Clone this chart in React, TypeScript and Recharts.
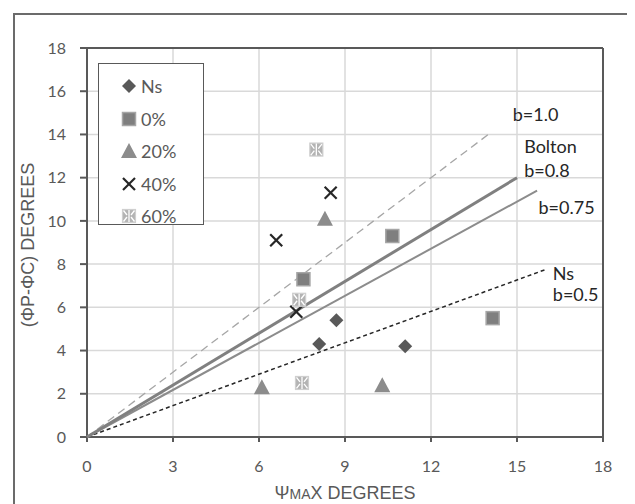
import React from 'react';
import { ScatterChart, Scatter, XAxis, YAxis, CartesianGrid, ReferenceLine, Legend } from 'recharts';

const xTicks = [0, 3, 6, 9, 12, 15, 18];
const yTicks = [0, 2, 4, 6, 8, 10, 12, 14, 16, 18];

const nsX = [8.1, 8.7, 11.1];
const nsY = [4.3, 5.4, 4.2];
const p0X = [7.55, 10.65, 14.15];
const p0Y = [7.3, 9.3, 5.5];
const p20X = [6.1, 8.3, 10.3];
const p20Y = [2.3, 10.1, 2.4];
const p40X = [6.6, 7.3, 8.5];
const p40Y = [9.1, 5.8, 11.3];
const p60X = [8.0, 7.4, 7.5];
const p60Y = [13.3, 6.35, 2.5];

const b10X = [0, 14];
const b10Y = [0, 14];
const boltonX = [0, 15];
const boltonY = [0, 12];
const b075X = [0, 15.7];
const b075Y = [0, 11.4];
const nsLineX = [0, 16];
const nsLineY = [0, 7.75];

const annText = ['b=1.0', 'Bolton', 'b=0.8', 'b=0.75', 'Ns', 'b=0.5'];
const annX = [14.85, 15.25, 15.25, 15.75, 16.25, 16.25];
const annY = [14.95, 13.45, 12.35, 10.65, 7.6, 6.6];

const legendNames = ['Ns', '0%', '20%', '40%', '60%'];

const zip = (xs: number[], ys: number[]) => xs.map((x, i) => ({ x, y: ys[i] }));

const FONT = 'Lato, "Open Sans", sans-serif';
const GRAY = '#595959';

const Diamond = ({ cx, cy }: any) => (
  <polygon points={`${cx},${cy - 7} ${cx + 7},${cy} ${cx},${cy + 7} ${cx - 7},${cy}`} fill="#595959" />
);
const Square = ({ cx, cy }: any) => (
  <rect x={cx - 6.5} y={cy - 6.5} width={13} height={13} fill="#7f7f7f" stroke="#a6a6a6" strokeWidth={1.5} />
);
const Triangle = ({ cx, cy }: any) => (
  <polygon points={`${cx},${cy - 8} ${cx + 8},${cy + 7} ${cx - 8},${cy + 7}`} fill="#8c8c8c" />
);
const Cross = ({ cx, cy }: any) => (
  <g stroke="#262626" strokeWidth={2.2}>
    <line x1={cx - 6} y1={cy - 6} x2={cx + 6} y2={cy + 6} />
    <line x1={cx - 6} y1={cy + 6} x2={cx + 6} y2={cy - 6} />
  </g>
);
const Pattern = ({ cx, cy }: any) => (
  <g>
    <rect x={cx - 6.5} y={cy - 6.5} width={13} height={13} fill="#b3b3b3" stroke="#cfcfcf" strokeWidth={1.2} />
    <g stroke="#ffffff" strokeWidth={1.3}>
      <line x1={cx} y1={cy - 6} x2={cx} y2={cy + 6} />
      <line x1={cx - 5.5} y1={cy - 5.5} x2={cx - 2} y2={cy - 1} />
      <line x1={cx + 5.5} y1={cy - 5.5} x2={cx + 2} y2={cy - 1} />
      <line x1={cx - 5.5} y1={cy + 5.5} x2={cx - 2} y2={cy + 1} />
      <line x1={cx + 5.5} y1={cy + 5.5} x2={cx + 2} y2={cy + 1} />
    </g>
  </g>
);
const Nothing = () => <g />;

const shapes = [Diamond, Square, Triangle, Cross, Pattern];

const AnnText = ({ cx, cy, payload }: any) => (
  <text x={cx} y={cy} dominantBaseline="central" textAnchor="start" fontSize={18} fontFamily={FONT} fill="#262626">
    {payload.label}
  </text>
);

const LegendBox = () => (
  <div
    style={{
      width: 106,
      height: 162,
      border: `1.5px solid ${GRAY}`,
      background: '#fff',
      boxSizing: 'border-box',
      paddingTop: 6,
    }}
  >
    {legendNames.map((n, i) => {
      const S = shapes[i];
      return (
        <div key={n} style={{ display: 'flex', alignItems: 'center', height: 32.5, paddingLeft: 21 }}>
          <svg width={18} height={18} style={{ overflow: 'visible' }}>
            <S cx={9} cy={9} />
          </svg>
          <span style={{ marginLeft: 3, fontSize: 18, fontFamily: FONT, color: GRAY }}>{n}</span>
        </div>
      );
    })}
  </div>
);

export default function App() {
  const annData = annText.map((label, i) => ({ x: annX[i], y: annY[i], label }));
  return (
    <div style={{ position: 'relative', width: 627, height: 496, background: '#fff' }}>
      <div
        style={{
          position: 'absolute',
          left: 5,
          top: 5,
          width: 618,
          height: 500,
          border: '2px solid #6b6b6b',
          boxSizing: 'border-box',
          pointerEvents: 'none',
        }}
      />
      <ScatterChart width={627} height={496} margin={{ top: 40, right: 32, bottom: 29, left: 29 }}>
        <CartesianGrid stroke="#d9d9d9" strokeWidth={1.5} />
        <XAxis
          type="number"
          dataKey="x"
          domain={[0, 18]}
          ticks={xTicks}
          interval={0}
          height={38}
          tickSize={5}
          tickMargin={19}
          axisLine={{ stroke: GRAY, strokeWidth: 2 }}
          tickLine={{ stroke: GRAY, strokeWidth: 2 }}
          tick={{ fontSize: 16, fill: GRAY, fontFamily: FONT }}
        />
        <YAxis
          type="number"
          dataKey="y"
          domain={[0, 18]}
          ticks={yTicks}
          interval={0}
          width={50}
          tickSize={7}
          tickMargin={14}
          axisLine={{ stroke: GRAY, strokeWidth: 2 }}
          tickLine={{ stroke: GRAY, strokeWidth: 2 }}
          tick={{ fontSize: 16, fill: GRAY, fontFamily: FONT }}
        />
        <ReferenceLine y={18} stroke={GRAY} strokeWidth={2} />
        <ReferenceLine x={18} stroke={GRAY} strokeWidth={2} />
        <Scatter data={zip(b10X, b10Y)} line={{ stroke: '#a6a6a6', strokeWidth: 1.3, strokeDasharray: '8 5' }} shape={Nothing} isAnimationActive={false} legendType="none" />
        <Scatter data={zip(nsLineX, nsLineY)} line={{ stroke: '#262626', strokeWidth: 1.5, strokeDasharray: '4 3' }} shape={Nothing} isAnimationActive={false} legendType="none" />
        <Scatter data={zip(b075X, b075Y)} line={{ stroke: '#8c8c8c', strokeWidth: 2 }} shape={Nothing} isAnimationActive={false} legendType="none" />
        <Scatter data={zip(boltonX, boltonY)} line={{ stroke: '#808080', strokeWidth: 3 }} shape={Nothing} isAnimationActive={false} legendType="none" />
        <Scatter name="Ns" data={zip(nsX, nsY)} shape={Diamond} isAnimationActive={false} />
        <Scatter name="0%" data={zip(p0X, p0Y)} shape={Square} isAnimationActive={false} />
        <Scatter name="20%" data={zip(p20X, p20Y)} shape={Triangle} isAnimationActive={false} />
        <Scatter name="40%" data={zip(p40X, p40Y)} shape={Cross} isAnimationActive={false} />
        <Scatter name="60%" data={zip(p60X, p60Y)} shape={Pattern} isAnimationActive={false} />
        <Scatter data={annData} shape={AnnText} isAnimationActive={false} legendType="none" />
        <Legend
          layout="vertical"
          align="center"
          verticalAlign="middle"
          content={() => <LegendBox />}
          wrapperStyle={{ position: 'absolute', left: 90, top: 55, width: 106, height: 162 }}
        />
        <text x={337} y={490.5} textAnchor="middle" fontFamily='"Liberation Sans", Arial, sans-serif' fill={GRAY} fontSize={18}>
          <tspan>Ψ</tspan>
          <tspan fontSize={14}>MA</tspan>
          <tspan>X DEGREES</tspan>
        </text>
        <text
          x={20}
          y={237}
          transform="rotate(-90 20 237)"
          textAnchor="middle"
          dominantBaseline="central"
          fontFamily='"Liberation Sans", Arial, sans-serif'
          fill={GRAY}
          fontSize={18}
        >
          (ΦP-ΦC) DEGREES
        </text>
      </ScatterChart>
    </div>
  );
}
